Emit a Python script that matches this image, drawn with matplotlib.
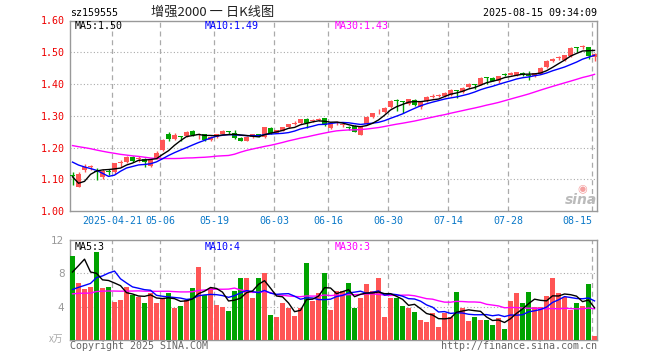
import numpy as np
import pandas as pd
import matplotlib
matplotlib.use('Agg')
import matplotlib.pyplot as plt
import matplotlib.transforms as mtransforms

# daily K-line, 2025-04-10 .. 2025-08-15
opens = [1.114, 1.077, 1.129, 1.138, 1.126, 1.108, 1.125, 1.124, 1.151, 1.153,
         1.171, 1.164, 1.163, 1.142, 1.168, 1.192, 1.243, 1.226, 1.236, 1.237,
         1.252, 1.238, 1.242, 1.224, 1.234, 1.243, 1.251, 1.245, 1.231, 1.222,
         1.233, 1.240, 1.232, 1.261, 1.247, 1.253, 1.264, 1.276, 1.276, 1.290,
         1.282, 1.288, 1.292, 1.262, 1.277, 1.270, 1.265, 1.268, 1.240, 1.274,
         1.296, 1.314, 1.311, 1.327, 1.349, 1.346, 1.338, 1.351, 1.329, 1.345,
         1.359, 1.362, 1.362, 1.364, 1.381, 1.374, 1.389, 1.398, 1.398, 1.420,
         1.419, 1.408, 1.432, 1.429, 1.427, 1.436, 1.427, 1.424, 1.432, 1.452,
         1.471, 1.481, 1.476, 1.487, 1.517, 1.517, 1.516, 1.485]
closes = [1.110, 1.117, 1.140, 1.140, 1.123, 1.127, 1.123, 1.150, 1.153, 1.171,
          1.158, 1.166, 1.155, 1.161, 1.184, 1.224, 1.226, 1.240, 1.234, 1.248,
          1.240, 1.244, 1.224, 1.234, 1.242, 1.253, 1.249, 1.231, 1.222, 1.234,
          1.242, 1.239, 1.264, 1.247, 1.254, 1.264, 1.273, 1.278, 1.289, 1.276,
          1.287, 1.290, 1.271, 1.274, 1.279, 1.272, 1.263, 1.250, 1.264, 1.296,
          1.308, 1.316, 1.324, 1.347, 1.347, 1.344, 1.352, 1.334, 1.345, 1.359,
          1.361, 1.364, 1.373, 1.382, 1.379, 1.387, 1.400, 1.396, 1.419, 1.418,
          1.410, 1.424, 1.430, 1.436, 1.437, 1.427, 1.425, 1.434, 1.450, 1.473,
          1.480, 1.483, 1.490, 1.513, 1.515, 1.519, 1.487, 1.495]
highs = [1.124, 1.124, 1.147, 1.146, 1.135, 1.133, 1.133, 1.152, 1.162, 1.174,
         1.174, 1.172, 1.166, 1.164, 1.188, 1.226, 1.250, 1.245, 1.236, 1.252,
         1.255, 1.246, 1.244, 1.237, 1.244, 1.256, 1.253, 1.256, 1.232, 1.236,
         1.244, 1.244, 1.266, 1.263, 1.256, 1.266, 1.275, 1.282, 1.291, 1.292,
         1.290, 1.294, 1.294, 1.277, 1.284, 1.280, 1.267, 1.270, 1.266, 1.298,
         1.310, 1.322, 1.328, 1.349, 1.352, 1.347, 1.354, 1.353, 1.347, 1.361,
         1.367, 1.370, 1.375, 1.384, 1.382, 1.389, 1.402, 1.399, 1.421, 1.421,
         1.421, 1.426, 1.434, 1.438, 1.439, 1.438, 1.442, 1.436, 1.452, 1.475,
         1.482, 1.489, 1.492, 1.515, 1.518, 1.523, 1.518, 1.497]
lows = [1.082, 1.075, 1.122, 1.128, 1.097, 1.100, 1.112, 1.118, 1.140, 1.150,
        1.155, 1.155, 1.140, 1.138, 1.165, 1.190, 1.222, 1.224, 1.222, 1.234,
        1.237, 1.226, 1.222, 1.221, 1.231, 1.241, 1.243, 1.228, 1.219, 1.220,
        1.230, 1.234, 1.230, 1.244, 1.245, 1.251, 1.262, 1.271, 1.274, 1.261,
        1.279, 1.283, 1.268, 1.258, 1.270, 1.264, 1.256, 1.248, 1.238, 1.272,
        1.294, 1.304, 1.309, 1.325, 1.314, 1.310, 1.335, 1.331, 1.322, 1.343,
        1.355, 1.358, 1.360, 1.362, 1.355, 1.372, 1.387, 1.383, 1.396, 1.401,
        1.408, 1.402, 1.425, 1.427, 1.425, 1.425, 1.413, 1.421, 1.430, 1.450,
        1.469, 1.477, 1.474, 1.485, 1.500, 1.511, 1.478, 1.471]
# volume, x万
volumes = [10.1, 6.8, 6.1, 6.4, 10.6, 6.2, 6.4, 4.6, 4.8, 6.4,
           5.4, 5.2, 4.4, 5.7, 4.5, 5.1, 5.6, 3.9, 4.1, 4.8,
           6.2, 8.8, 5.4, 6.3, 4.2, 4.0, 3.5, 5.9, 7.5, 7.5,
           5.0, 7.5, 8.1, 3.0, 2.8, 4.5, 3.8, 2.9, 3.8, 9.3,
           4.7, 5.6, 8.0, 3.6, 5.9, 5.9, 6.8, 3.8, 5.0, 6.7,
           5.9, 7.4, 2.8, 5.0, 5.1, 4.1, 3.8, 3.4, 2.4, 2.2,
           3.2, 1.6, 3.3, 2.8, 5.8, 3.9, 2.3, 2.8, 2.4, 2.4,
           1.8, 2.6, 1.3, 4.7, 5.6, 4.4, 5.8, 4.0, 4.0, 5.3,
           7.4, 5.7, 5.2, 3.6, 4.4, 4.1, 6.7, 0.5]

# 29 sessions before the window, only needed to seed the moving averages
pre_closes = [1.22, 1.23, 1.24, 1.25, 1.24, 1.23, 1.24, 1.25, 1.24, 1.23,
              1.22, 1.23, 1.24, 1.23, 1.22, 1.23, 1.24, 1.22, 1.21, 1.23,
              1.21, 1.20, 1.19, 1.18, 1.22, 1.22, 1.11, 1.03, 1.07]
pre_volumes = [5.0, 5.5, 6.2, 4.8, 5.1, 5.6, 4.9, 5.3, 6.0, 5.2,
               4.7, 5.4, 5.8, 5.0, 4.9, 5.5, 5.3, 5.1, 4.8, 5.5,
               4.2, 3.8, 4.0, 3.6, 4.2, 3.0, 2.2, 14.1, 11.4]

tick_idx = [7, 15, 24, 34, 43, 53, 63, 73, 87]
tick_lbl = ['2025-04-21', '05-06', '05-19', '06-03', '06-16',
            '06-30', '07-14', '07-28', '08-15']

RED = '#ff5555'
GREEN = '#00a300'
GRID = '#aaaaaa'
SPINE = '#999999'
MONO = 'DejaVu Sans Mono'
CJK = ['Noto Sans CJK SC', 'DejaVu Sans']

o = np.array(opens)
c = np.array(closes)
n = len(c)
x = np.arange(n) + 0.42
cols = [RED if cc > oo else GREEN for oo, cc in zip(o, c)]

k = len(pre_closes)
s_close = pd.Series(pre_closes + closes)
s_vol = pd.Series(pre_volumes + volumes)
ma = {w: s_close.rolling(w).mean().values[k:] for w in (5, 10, 30)}
vma = {w: s_vol.rolling(w).mean().values[k:] for w in (5, 10, 30)}
ma_cols = {5: 'black', 10: '#0000ff', 30: '#ff00ff'}

W, H = 660, 360
fig = plt.figure(figsize=(W / 100, H / 100), dpi=100)


def box(l, t, r, b):
    return [l / W, 1 - b / H, (r - l) / W, (b - t) / H]


def ftext(px, py, s, **kw):
    fig.text(px / W, 1 - py / H, s, **kw)


ax = fig.add_axes(box(70, 20.5, 597, 211))
axv = fig.add_axes(box(70, 240, 597, 340))

for a in (ax, axv):
    a.set_xlim(0, 87.83)
    for sp in a.spines.values():
        sp.set_color(SPINE)
        sp.set_linewidth(1)
    a.set_xticks([])
    for i in tick_idx:
        a.axvline(i, color=GRID, ls=(0, (4, 3)), lw=0.9, zorder=1)
    a.tick_params(axis='y', length=0)

# price panel
ax.set_ylim(1.0, 1.6)
for yv in [1.1, 1.2, 1.3, 1.4, 1.5]:
    ax.axhline(yv, color=GRID, ls=(0, (1, 2)), lw=0.8, zorder=1)
ax.vlines(x, lows, highs, colors=cols, lw=1, zorder=3)
diff = np.abs(c - o)
body = np.maximum(diff, 0.003)
bottom = np.where(diff < 0.003, (o + c) / 2 - 0.0015, np.minimum(o, c))
ax.bar(x, body, bottom=bottom, width=0.8, color=cols, linewidth=0, zorder=4)
for w in (30, 10, 5):
    ax.plot(x, ma[w], color=ma_cols[w], lw=1, zorder=5)
yt = [1.0, 1.1, 1.2, 1.3, 1.4, 1.5, 1.6]
ax.set_yticks(yt)
ax.set_yticklabels([f'{v:.2f}' for v in yt], color='#ee0000',
                   fontsize=7.2, family=MONO)
ax.tick_params(axis='y', pad=4)

tr = mtransforms.blended_transform_factory(ax.transData, ax.transAxes)
for i, lbl in zip(tick_idx, tick_lbl):
    ha = 'right' if i == tick_idx[-1] else 'center'
    ax.text(i, -0.052, lbl, transform=tr, ha=ha, va='center',
            color='#0a78c8', fontsize=7.2, family=MONO)

# volume panel
axv.set_ylim(0, 12)
for yv in [4, 8]:
    axv.axhline(yv, color=GRID, ls=(0, (1, 2)), lw=0.8, zorder=1)
axv.bar(x, volumes, width=0.8, color=cols, linewidth=0, zorder=3)
for w in (30, 10, 5):
    axv.plot(x, vma[w], color=ma_cols[w], lw=1, zorder=5)
axv.set_yticks([4, 8, 12])
axv.set_yticklabels(['4', '8', '12'], color='#999999', fontsize=7.5)
axv.tick_params(axis='y', pad=4)

# header and legends
ftext(70, 13, 'sz159555', ha='left', va='center', family=MONO, fontsize=7.2)
ftext(151, 12.5, '增强2000 一 日K线图', ha='left', va='center',
      family=CJK, fontsize=9.5, color='#222222')
ftext(597, 13, '2025-08-15 09:34:09', ha='right', va='center',
      family=MONO, fontsize=7.2)

for px, txt, col in [(75, 'MA5:1.50', 'black'), (205, 'MA10:1.49', '#0000ff'),
                     (335, 'MA30:1.43', '#ff00ff')]:
    ftext(px, 26, txt, ha='left', va='center', family=MONO, fontsize=7.2, color=col)
for px, txt, col in [(75, 'MA5:3', 'black'), (205, 'MA10:4', '#0000ff'),
                     (335, 'MA30:3', '#ff00ff')]:
    ftext(px, 246.5, txt, ha='left', va='center', family=MONO, fontsize=7.2, color=col)

ftext(63, 339, 'x万', ha='right', va='center', family=CJK, fontsize=7, color='#aaaaaa')
ftext(70, 346, 'Copyright 2025 SINA.COM', ha='left', va='center',
      family=MONO, fontsize=7.2, color='#666666')
ftext(597, 346, 'http://finance.sina.com.cn', ha='right', va='center',
      family=MONO, fontsize=7.2, color='#666666')

# sina watermark
ftext(582, 189, '◉', ha='center', va='center', fontsize=8, color='#f4a0a0')
ftext(597, 200, 'sina', ha='right', va='center', fontsize=10,
      weight='bold', style='italic', color='#bbbbbb')

fig.savefig('out.png', dpi=100)
